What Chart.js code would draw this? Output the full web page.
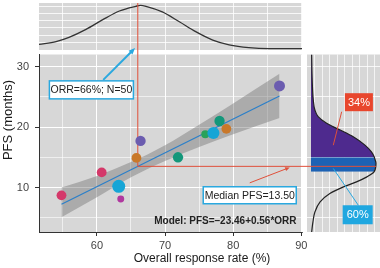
<!DOCTYPE html>
<html>
<head>
<meta charset="utf-8">
<script src="https://cdn.jsdelivr.net/npm/chart.js@4.4.1/dist/chart.umd.min.js"></script>
<style>
  html, body { margin: 0; padding: 0; background: #fff; }
  #wrap { position: relative; width: 380px; height: 268px; }
  #wrap canvas { position: absolute; left: 0; top: 0; }
</style>
</head>
<body>
<div id="wrap">
  <canvas id="topChart" width="380" height="268"></canvas>
  <canvas id="sideChart" width="380" height="268"></canvas>
  <canvas id="mainChart" width="380" height="268"></canvas>
</div>
<script>
// trials: overall response rate (%) vs PFS (months), size = trial N
const orr = [54.8, 60.7, 63.5, 63.2, 65.8, 66.4, 71.9, 75.9, 77.1, 78.0, 79.0, 86.8];
const pfs = [8.7, 12.5, 8.1, 10.2, 14.9, 17.7, 15.0, 18.8, 19.0, 21.0, 19.7, 26.8];
const trialN = [20, 20, 10, 35, 20, 22, 22, 13, 30, 22, 20, 25];

// fitted line + confidence band
const fitX = [54.8, 86.8];
const fitY = [7.23, 25.15];
const bandX = [54.8, 60, 65, 70, 75, 80, 86.8];
const bandLo = [5.1, 8.4, 11.7, 14.4, 16.7, 18.8, 21.5];
const bandHi = [10.0, 11.9, 14.2, 17.0, 20.4, 23.9, 28.8];

// marginal density of ORR (top)
const orrDensX = [51.5, 54.0, 55.9, 58.4, 60.8, 63.3, 65.7, 66.4, 67.2, 69.6, 72.1, 74.5, 77.0, 79.4, 82.3, 85.3, 90.1];
const orrDens = [0.12, 0.18, 0.27, 0.44, 0.64, 0.83, 0.93, 0.95, 0.93, 0.81, 0.60, 0.39, 0.21, 0.11, 0.05, 0.03, 0.03];

// marginal density of PFS (right)
const pfsDensY = [2.64, 4.30, 5.95, 7.61, 9.00, 10.10, 10.93, 11.76, 12.59, 13.98, 14.81, 15.0, 15.90, 17.01, 18.39, 19.50, 20.61, 21.71, 22.82, 24.48, 27.25, 32.0];
const pfsDens = [0.01, 0.03, 0.06, 0.14, 0.29, 0.50, 0.70, 0.86, 0.97, 1.00, 0.98, 0.975, 0.93, 0.83, 0.65, 0.45, 0.24, 0.11, 0.06, 0.035, 0.02, 0.01];

const orrRef = 66;       // ORR=66%
const pfsMedian = 13.5;  // Median PFS
const medLo = 12.59, medHi = 15.0;

const xGrid = [55, 60, 65, 70, 75, 80, 85, 90];
const yGrid = [5, 10, 15, 20, 25, 30];

const pointColors = ["#d43869", "#d43869", "#b0389f", "#16a5d6", "#c9782a", "#6b5caf",
  "#13977a", "#2aa25a", "#16a5d6", "#13977a", "#c9782a", "#6b5caf"];

const FONT = "'Liberation Sans', Arial, sans-serif";
const PANEL = "#d7d7d7";

const panelBg = {
  id: "panelBg",
  beforeDraw(chart) {
    const a = chart.chartArea, ctx = chart.ctx;
    ctx.save();
    ctx.fillStyle = PANEL;
    ctx.fillRect(a.left, a.top, a.right - a.left, a.bottom - a.top);
    ctx.restore();
  }
};

function setTicks(vals) {
  return (s) => { s.ticks = vals.map((v) => ({ value: v })); };
}

// ---- top density ----
const topChart = new Chart(document.getElementById("topChart"), {
  type: "line",
  data: {
    datasets: [{
      data: orrDensX.map((x, i) => ({ x: x, y: orrDens[i] })),
      borderColor: "#333",
      borderWidth: 1.3,
      pointRadius: 0,
      cubicInterpolationMode: "monotone",
      fill: false
    }]
  },
  options: {
    responsive: false, animation: false, events: [],
    layout: { padding: { left: 39, right: 78, top: 3, bottom: 218 } },
    plugins: { legend: { display: false }, tooltip: { enabled: false } },
    scales: {
      x: {
        type: "linear", min: 51.5, max: 90.1,
        afterBuildTicks: setTicks(xGrid),
        ticks: { display: false },
        grid: { color: "#fff", lineWidth: 0.8, drawTicks: false },
        border: { display: false },
        afterFit: (s) => { s.height = 0; }
      },
      y: {
        type: "linear", min: 0, max: 1,
        afterBuildTicks: setTicks([0.16, 0.315, 0.47, 0.625, 0.78, 0.935]),
        ticks: { display: false },
        grid: { color: "#fff", lineWidth: 0.8, drawTicks: false },
        border: { display: false },
        afterFit: (s) => { s.width = 0; }
      }
    }
  },
  plugins: [panelBg]
});

// ---- right density ----
const sideGrid = [];
for (let v = 0.06; v < 1.06; v += 0.115) sideGrid.push(v);

const sideChart = new Chart(document.getElementById("sideChart"), {
  type: "line",
  data: {
    datasets: [
      {
        data: pfsDensY.map((y, i) => ({ x: pfsDens[i], y: y })).filter((p) => p.y >= medHi),
        fill: "origin", backgroundColor: "#4e2a8e",
        borderColor: "transparent", borderWidth: 0, pointRadius: 0,
        cubicInterpolationMode: "monotone", order: 2
      },
      {
        data: pfsDensY.map((y, i) => ({ x: pfsDens[i], y: y })).filter((p) => p.y >= medLo && p.y <= medHi),
        fill: "origin", backgroundColor: "#1d62b4",
        borderColor: "transparent", borderWidth: 0, pointRadius: 0,
        cubicInterpolationMode: "monotone", order: 1
      },
      {
        data: pfsDensY.map((y, i) => ({ x: pfsDens[i], y: y })),
        fill: false, borderColor: "#222", borderWidth: 1.2, pointRadius: 0,
        cubicInterpolationMode: "monotone", order: 0
      }
    ]
  },
  options: {
    indexAxis: "y",
    responsive: false, animation: false, events: [],
    layout: { padding: { left: 307, right: 0, top: 54.5, bottom: 36 } },
    plugins: { legend: { display: false }, tooltip: { enabled: false } },
    scales: {
      x: {
        type: "linear", min: -0.0615, max: 1.0615,
        afterBuildTicks: setTicks(sideGrid),
        ticks: { display: false },
        grid: { color: "#fff", lineWidth: 0.7, drawTicks: false },
        border: { display: false },
        afterFit: (s) => { s.height = 0; }
      },
      y: {
        type: "linear", min: 2.64, max: 32.0,
        afterBuildTicks: setTicks(yGrid),
        ticks: { display: false },
        grid: { color: "#fff", lineWidth: 0.8, drawTicks: false },
        border: { display: false },
        afterFit: (s) => { s.width = 0; }
      }
    }
  },
  plugins: [panelBg]
});

// ---- helpers for annotations ----
function arrow(ctx, x1, y1, x2, y2, color, width, head) {
  ctx.save();
  ctx.strokeStyle = color; ctx.fillStyle = color; ctx.lineWidth = width;
  const ang = Math.atan2(y2 - y1, x2 - x1);
  ctx.beginPath();
  ctx.moveTo(x1, y1);
  ctx.lineTo(x2 - Math.cos(ang) * head * 0.7, y2 - Math.sin(ang) * head * 0.7);
  ctx.stroke();
  ctx.beginPath();
  ctx.moveTo(x2, y2);
  ctx.lineTo(x2 - head * Math.cos(ang - 0.4), y2 - head * Math.sin(ang - 0.4));
  ctx.lineTo(x2 - head * Math.cos(ang + 0.4), y2 - head * Math.sin(ang + 0.4));
  ctx.closePath();
  ctx.fill();
  ctx.restore();
}

function line(ctx, x1, y1, x2, y2, color, width) {
  ctx.save();
  ctx.strokeStyle = color; ctx.lineWidth = width;
  ctx.beginPath(); ctx.moveTo(x1, y1); ctx.lineTo(x2, y2); ctx.stroke();
  ctx.restore();
}

function box(ctx, text, cx, cy, w, h, fill, stroke, color, font) {
  ctx.save();
  ctx.fillStyle = fill;
  ctx.fillRect(cx - w / 2, cy - h / 2, w, h);
  if (stroke) {
    ctx.strokeStyle = stroke; ctx.lineWidth = 1.5;
    ctx.strokeRect(cx - w / 2, cy - h / 2, w, h);
  }
  ctx.fillStyle = color;
  ctx.font = font;
  ctx.textAlign = "center";
  ctx.textBaseline = "middle";
  ctx.fillText(text, cx, cy + 0.5);
  ctx.restore();
}

const RED = "#e0503a";
const CYAN = "#2aa8df";

const refLines = {
  id: "refLines",
  beforeDatasetDraw(chart, args) {
    if (args.index !== 3) return;
    const ctx = chart.ctx;
    const x = chart.scales.x.getPixelForValue(orrRef);
    const y = chart.scales.y.getPixelForValue(pfsMedian);
    const top = topChart.chartArea.top;
    const xEnd = sideChart.scales.x.getPixelForValue(1.0);
    ctx.save();
    ctx.strokeStyle = RED; ctx.lineWidth = 1;
    ctx.beginPath();
    ctx.moveTo(x, top);
    ctx.lineTo(x, y);
    ctx.lineTo(xEnd, y);
    ctx.stroke();
    ctx.restore();
  }
};

const annotations = {
  id: "annotations",
  afterDraw(chart) {
    const ctx = chart.ctx;
    const xs = chart.scales.x, ys = chart.scales.y;
    const sx = sideChart.scales.x, sy = sideChart.scales.y;
    const PX = (v) => xs.getPixelForValue(v), PY = (v) => ys.getPixelForValue(v);

    // ORR arrow + box
    arrow(ctx, PX(60.93), PY(27.8), PX(65.6), topChart.scales.y.getPixelForValue(0.04), CYAN, 2, 7);
    box(ctx, "ORR=66%; N=50", PX(59.19), PY(26.15), 84, 18, "#fff", CYAN, "#222", "10.5px " + FONT);

    // Median arrow + box
    arrow(ctx, PX(82.43), PY(10.77), PX(88.3), PY(13.32), RED, 1, 5);
    box(ctx, "Median PFS=13.50", PX(82.43), PY(8.72), 93, 17, "#fff", CYAN, "#222", "10.5px " + FONT);

    // model text
    ctx.save();
    ctx.font = "bold 10px " + FONT;
    ctx.fillStyle = "#222";
    ctx.textAlign = "right";
    ctx.textBaseline = "middle";
    ctx.fillText("Model: PFS=\u201323.46+0.56*ORR", PX(89.3), PY(4.41));
    ctx.restore();

    // side panel labels
    line(ctx, sx.getPixelForValue(0.472), sy.getPixelForValue(22.54), sx.getPixelForValue(0.343), sy.getPixelForValue(17.0), RED, 1);
    box(ctx, "34%", sx.getPixelForValue(0.737), sy.getPixelForValue(24.11), 28, 18, "#e8462d", null, "#fff", "11px " + FONT);
    line(ctx, sx.getPixelForValue(0.728), sy.getPixelForValue(7.06), sx.getPixelForValue(0.343), sy.getPixelForValue(13.15), CYAN, 1);
    box(ctx, "60%", sx.getPixelForValue(0.718), sy.getPixelForValue(5.49), 30, 19, "#1fa7e0", null, "#fff", "11px " + FONT);

    // axis titles
    ctx.save();
    ctx.fillStyle = "#1a1a1a";
    ctx.font = "12px " + FONT;
    ctx.textAlign = "center";
    ctx.textBaseline = "middle";
    ctx.fillText("Overall response rate (%)", 202, 258.5);
    ctx.translate(8.5, 120);
    ctx.rotate(-Math.PI / 2);
    ctx.font = "13px " + FONT;
    ctx.fillText("PFS (months)", 0, 0);
    ctx.restore();
  }
};

// ---- main scatter ----
const mainChart = new Chart(document.getElementById("mainChart"), {
  type: "line",
  data: {
    datasets: [
      {
        data: bandX.map((x, i) => ({ x: x, y: bandLo[i] })),
        borderColor: "transparent", borderWidth: 0, pointRadius: 0, fill: false,
        cubicInterpolationMode: "monotone", order: 3
      },
      {
        data: bandX.map((x, i) => ({ x: x, y: bandHi[i] })),
        borderColor: "transparent", borderWidth: 0, pointRadius: 0,
        fill: "-1", backgroundColor: "rgba(110,110,110,0.42)",
        cubicInterpolationMode: "monotone", order: 2
      },
      {
        data: fitX.map((x, i) => ({ x: x, y: fitY[i] })),
        borderColor: "#2a7fc9", borderWidth: 1.2, pointRadius: 0, fill: false, order: 1
      },
      {
        data: orr.map((x, i) => ({ x: x, y: pfs[i] })),
        showLine: false,
        pointRadius: trialN.map((n) => 1.1 * Math.sqrt(n)),
        pointBackgroundColor: pointColors,
        pointBorderWidth: 0,
        order: 0
      }
    ]
  },
  options: {
    responsive: false, animation: false, events: [],
    layout: { padding: { left: 0, right: 78, top: 54.5, bottom: 0 } },
    plugins: { legend: { display: false }, tooltip: { enabled: false } },
    scales: {
      x: {
        type: "linear", min: 51.5, max: 90.1,
        afterBuildTicks: setTicks(xGrid),
        ticks: {
          callback: (v) => (v % 10 === 0 ? v : ""),
          color: "#444", font: { family: FONT, size: 11 }, padding: 3,
          maxRotation: 0, autoSkip: false
        },
        grid: {
          color: "#fff",
          lineWidth: (c) => (c.tick && c.tick.value % 10 === 0 ? 1 : 0.6),
          tickColor: (c) => (c.tick && c.tick.value % 10 === 0 ? "#333" : "transparent"),
          tickWidth: 1, tickLength: 4
        },
        border: { display: true, color: "#333", width: 1 },
        afterFit: (s) => { s.height = 36; }
      },
      y: {
        type: "linear", min: 2.64, max: 32.0,
        afterBuildTicks: setTicks(yGrid),
        ticks: {
          callback: (v) => (v % 10 === 0 ? v : ""),
          color: "#444", font: { family: FONT, size: 11 }, padding: 6
        },
        grid: {
          color: "#fff",
          lineWidth: (c) => (c.tick && c.tick.value % 10 === 0 ? 1 : 0.6),
          tickColor: (c) => (c.tick && c.tick.value % 10 === 0 ? "#333" : "transparent"),
          tickWidth: 1, tickLength: 4
        },
        border: { display: true, color: "#333", width: 1 },
        afterFit: (s) => { s.width = 39; }
      }
    }
  },
  plugins: [panelBg, refLines, annotations]
});
</script>
</body>
</html>
